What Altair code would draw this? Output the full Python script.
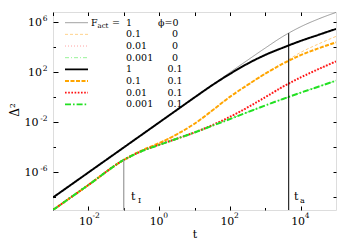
import altair as alt
import pandas as pd

FONT = "DejaVu Serif"

# ---- data (log10 values) ----
log_t = [-3, -2, -1, -0.5, 0, 0.5, 1, 1.5, 2, 2.5, 3, 3.5, 4, 4.5, 5]

F_labels = ["1", "0.1", "0.01", "0.001", "1", "0.1", "0.01", "0.001"]
phi_labels = ["0", "0", "0", "0", "0.1", "0.1", "0.1", "0.1"]

logD_F1_p0 = [-8, -6, -4, -3, -2, -1, 0, 1, 2, 2.98, 3.95, 4.88, 5.65, 6.27, 6.8]
logD_F01_p0 = [-9, -7, -5, -4.25, -3.65, -2.95, -2.1, -1.05, 0.05, 1.0, 1.9, 2.75, 3.6, 4.27, 4.88]
logD_F001_p0 = [-9, -7, -5, -4.3, -3.78, -3.3, -2.8, -2.22, -1.55, -0.8, 0.02, 0.86, 1.6, 2.26, 2.88]
logD_F0001_p0 = [-9, -7, -5, -4.3, -3.8, -3.3, -2.8, -2.27, -1.73, -1.18, -0.64, -0.12, 0.38, 0.86, 1.34]
logD_F1_p1 = [-8, -6, -4, -3, -2, -1, 0, 0.98, 1.88, 2.7, 3.4, 3.98, 4.52, 5.0, 5.48]
logD_F01_p1 = [-9, -7, -5, -4.25, -3.65, -2.95, -2.1, -1.05, 0.05, 1.0, 1.9, 2.7, 3.38, 3.92, 4.4]
logD_F001_p1 = [-9, -7, -5, -4.3, -3.78, -3.3, -2.8, -2.22, -1.55, -0.8, 0.02, 0.86, 1.6, 2.26, 2.88]
logD_F0001_p1 = [-9, -7, -5, -4.3, -3.8, -3.3, -2.8, -2.27, -1.73, -1.18, -0.64, -0.12, 0.38, 0.86, 1.34]

series = [logD_F1_p0, logD_F01_p0, logD_F001_p0, logD_F0001_p0,
          logD_F1_p1, logD_F01_p1, logD_F001_p1, logD_F0001_p1]

tI_t = [0.1]
tI_top = [1e-5]
ta_t = [4600]
ta_top = [10 ** 5.14]

x_tick_exp = [-2, 0, 2, 4]
x_tick_sup = ["-2", "0", "2", "4"]
x_minor_exp = [-3, -1, 1, 3]
y_tick_exp = [-6, -2, 2, 6]
y_tick_sup = ["-6", "-2", "2", "6"]
y_minor_exp = [-8, -4, 0, 4]

# ---- styles ----
colors = ["#7f7f7f", "#ffc060", "#ff8080", "#70ee70", "#000000", "#ffa500", "#ff1010", "#22e022"]
widths = [0.8, 0.8, 0.8, 0.8, 2.0, 2.0, 2.0, 2.0]
dashes = [[1, 0], [3, 2], [1, 2], [4, 2, 1, 2], [1, 0], [4, 1.5], [1.6, 1.6], [6, 2, 1.6, 2]]

X_DOM = [1e-3, 1e5]
Y_DOM = [1e-9, 6.8e6]
xs = alt.Scale(type="log", domain=X_DOM, nice=False)
ys = alt.Scale(type="log", domain=Y_DOM, nice=False)

rows = []
for i, s in enumerate(series):
    for lt, ld in zip(log_t, s):
        rows.append({"sid": i, "t": 10 ** lt, "d": 10 ** ld})
df = pd.DataFrame(rows)


def label_expr(exps, labs):
    expr = "''"
    for e, l in zip(exps, labs):
        expr = f"(abs(log(datum.value)/LN10 - ({e})) < 0.01 ? '{l}' : {expr})"
    return expr


layers = []
for i in range(8):
    sub = df[df.sid == i]
    layers.append(
        alt.Chart(sub).mark_line(
            color=colors[i], strokeWidth=widths[i], strokeDash=dashes[i],
            interpolate="monotone", clip=True
        ).encode(
            x=alt.X("t:Q", scale=xs, axis=None),
            y=alt.Y("d:Q", scale=ys, axis=None),
            order="t:Q",
        )
    )

# vertical markers
layers.append(
    alt.Chart(pd.DataFrame({"t": tI_t, "lo": [Y_DOM[0]], "hi": tI_top})).mark_rule(
        color="#999999", strokeWidth=1.2
    ).encode(x=alt.X("t:Q", scale=xs, axis=None), y=alt.Y("lo:Q", scale=ys, axis=None), y2="hi:Q")
)
layers.append(
    alt.Chart(pd.DataFrame({"t": ta_t, "lo": [Y_DOM[0]], "hi": ta_top})).mark_rule(
        color="black", strokeWidth=1
    ).encode(x=alt.X("t:Q", scale=xs, axis=None), y=alt.Y("lo:Q", scale=ys, axis=None), y2="hi:Q")
)


# ---- axes (invisible carrier layers) ----
def axis_layer(xaxis, yaxis):
    return alt.Chart(df).mark_line(opacity=0).encode(
        x=alt.X("t:Q", scale=xs, axis=xaxis),
        y=alt.Y("d:Q", scale=ys, axis=yaxis),
        detail="sid:N",
    )


def lab_axis(orient, vals, expr, size, pad, offset, align, baseline):
    return alt.Axis(orient=orient, values=vals, labelExpr=expr, labelPadding=pad,
                    labelOffset=offset, labelAlign=align, labelBaseline=baseline,
                    grid=False, domain=False, ticks=False, tickSize=0, title=None,
                    labelFont=FONT, labelFontSize=size, labelColor="black",
                    labelOverlap=False, labelFlush=False, labelBound=False)


tick_common = dict(grid=False, domain=False, labels=False, ticks=True, title=None,
                   tickColor="black", tickWidth=1)

xv = [10 ** e for e in x_tick_exp]
yneg = [10 ** e for e in y_tick_exp if e < 0]
ypos = [10 ** e for e in y_tick_exp if e > 0]

# "10" mantissas + superscript exponents
layers.append(axis_layer(
    lab_axis("bottom", xv, "'10'", 11, 5, -10, "left", "top"),
    lab_axis("left", yneg, "'10'", 11, 15, 0, "right", "middle"),
))
layers.append(axis_layer(
    lab_axis("bottom", xv, label_expr(x_tick_exp, x_tick_sup), 7.5, 1.5, 3.5, "left", "top"),
    lab_axis("left", ypos, "'10'", 11, 11.5, 0, "right", "middle"),
))
layers.append(axis_layer(
    alt.Axis(orient="bottom", values=xv, tickSize={"expr": "-4"}, **tick_common),
    lab_axis("left", [10 ** e for e in y_tick_exp], label_expr(y_tick_exp, y_tick_sup), 7.5, 6, -4, "right", "middle"),
))
layers.append(axis_layer(
    alt.Axis(orient="bottom", values=[10 ** e for e in x_minor_exp], tickSize={"expr": "-2.5"}, **tick_common),
    alt.Axis(orient="left", values=[10 ** e for e in y_tick_exp], tickSize={"expr": "-5"}, **tick_common),
))
layers.append(axis_layer(
    alt.Axis(orient="top", values=[10 ** e for e in x_tick_exp + x_minor_exp], tickSize={"expr": "-3.5"}, **tick_common),
    alt.Axis(orient="left", values=[10 ** e for e in y_minor_exp], tickSize={"expr": "-2.5"}, **tick_common),
))
layers.append(axis_layer(
    None,
    alt.Axis(orient="right", values=[10 ** e for e in y_tick_exp + y_minor_exp], tickSize={"expr": "-3"}, **tick_common),
))


# ---- text helpers ----
def txt(s, x, y, size=9.5, align="left", baseline="middle", angle=0):
    return alt.Chart(pd.DataFrame({"s": [s]})).mark_text(
        font=FONT, fontSize=size, align=align, baseline=baseline, angle=angle, color="black"
    ).encode(x=alt.value(x), y=alt.value(y), text="s:N")


# legend
row_y0, row_dy = 10.7, 11.66
for i in range(8):
    yy = row_y0 + row_dy * i
    layers.append(
        alt.Chart(pd.DataFrame({"a": [0]})).mark_rule(
            color=colors[i], strokeWidth=widths[i] * 0.9, strokeDash=dashes[i]
        ).encode(x=alt.value(12), x2=alt.value(35), y=alt.value(yy))
    )
    layers.append(txt(F_labels[i], 73, yy))
    if i == 0:
        layers.append(txt("ϕ=" + phi_labels[i], 105, yy))
    else:
        layers.append(txt(phi_labels[i], 122, yy, align="center"))
layers.append(txt("F", 38, row_y0))
layers.append(txt("act", 44.5, row_y0 + 3, size=7))
layers.append(txt("=", 59, row_y0))

# annotations
layers.append(txt("t", 78, 188, size=11, baseline="alphabetic"))
layers.append(txt("I", 85, 191, size=8, baseline="alphabetic"))
layers.append(txt("t", 241, 188, size=11, baseline="alphabetic"))
layers.append(txt("a", 247, 191, size=8, baseline="alphabetic"))

# axis titles
layers.append(txt("t", 142, 223, size=11, align="center"))
layers.append(txt("Δ²", -38, 98, size=12, align="center", angle=270))

chart = alt.layer(*layers).resolve_axis(x="independent", y="independent").properties(
    width=283, height=198,
    autosize=alt.AutoSizeParams(type="none"),
    padding={"left": 45, "top": 4, "right": 10, "bottom": 30},
).configure_view(stroke="black", strokeWidth=1.5).configure(background="white")

chart.save("out.html", embed_options={"renderer": "svg", "actions": False})
